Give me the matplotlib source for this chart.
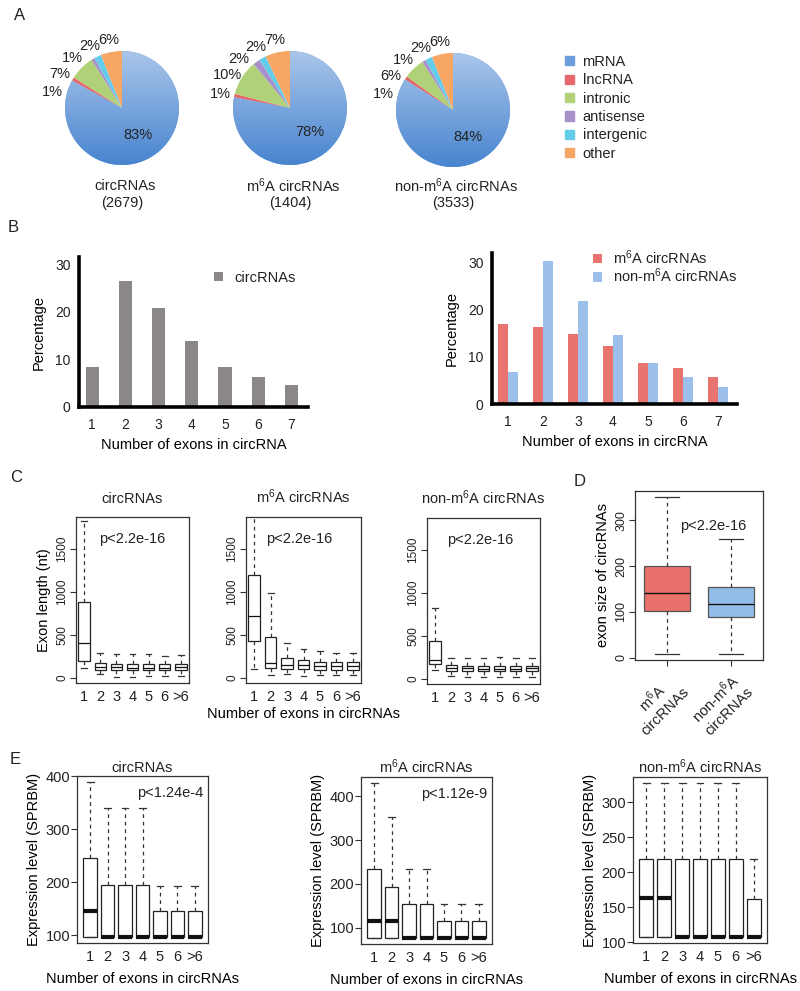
import matplotlib
matplotlib.use('Agg')
import matplotlib.pyplot as plt
import numpy as np
from matplotlib.patches import Patch
from matplotlib.colors import LinearSegmentedColormap

plt.rcParams['font.family'] = ['Liberation Sans', 'DejaVu Sans']
plt.rcParams['mathtext.fontset'] = 'custom'
plt.rcParams['mathtext.rm'] = 'Liberation Sans'
plt.rcParams['mathtext.it'] = 'Liberation Sans:italic'
plt.rcParams['font.size'] = 10
plt.rcParams['text.color'] = '#222222'
plt.rcParams['xtick.color'] = '#333333'
plt.rcParams['ytick.color'] = '#333333'
plt.rcParams['xtick.labelcolor'] = '#222222'
plt.rcParams['ytick.labelcolor'] = '#222222'

M6A = r'm$^{\rm 6}$A'

# A: composition of circRNAs (%)
pie_types = ['mRNA', 'lncRNA', 'intronic', 'antisense', 'intergenic', 'other']
pie_colors = ['#6d9edb', '#e5676a', '#b1d178', '#a890cb', '#63cde9', '#f7a664']
pie_names = ['circRNAs', M6A + ' circRNAs', 'non-' + M6A + ' circRNAs']
pie_counts = [2679, 1404, 3533]
pie_all = [83, 1, 7, 1, 2, 6]
pie_m6a = [78, 1, 10, 2, 2, 7]
pie_non = [84, 1, 6, 1, 2, 6]

# B: distribution of exon numbers (%)
exon_num = [1, 2, 3, 4, 5, 6, 7]
pct_all = [8.4, 26.5, 20.8, 13.8, 8.4, 6.3, 4.7]
pct_m6a = [17.0, 16.4, 14.9, 12.3, 8.7, 7.6, 5.8]
pct_non = [6.8, 30.4, 22.0, 14.7, 8.7, 5.8, 3.6]

# C: exon length (nt) by exon number
box_labels = ['1', '2', '3', '4', '5', '6', '>6']
c_all_lo = [110, 40, 10, 10, 20, 20, 20]
c_all_q1 = [190, 95, 90, 85, 88, 85, 88]
c_all_med = [400, 125, 120, 115, 118, 115, 120]
c_all_q3 = [880, 165, 160, 155, 158, 155, 160]
c_all_hi = [1820, 285, 275, 270, 270, 255, 260]

c_m6a_lo = [100, 35, 45, 25, 35, 35, 35]
c_m6a_q1 = [425, 115, 100, 100, 92, 92, 92]
c_m6a_med = [715, 170, 150, 150, 140, 140, 140]
c_m6a_q3 = [1200, 475, 230, 205, 185, 185, 185]
c_m6a_hi = [1950, 990, 400, 335, 310, 290, 290]

c_non_lo = [105, 35, 15, 15, 15, 15, 15]
c_non_q1 = [175, 92, 90, 88, 90, 88, 90]
c_non_med = [220, 127, 120, 118, 118, 118, 120]
c_non_q3 = [440, 160, 150, 150, 152, 150, 152]
c_non_hi = [820, 245, 240, 245, 250, 235, 245]

# D: exon size
d_labels = [M6A + '\ncircRNAs', 'non-' + M6A + '\ncircRNAs']
d_lo = [9, 9]
d_q1 = [103, 90]
d_med = [142, 118]
d_q3 = [201, 155]
d_hi = [350, 258]

# E: expression level (SPRBM)
e_all_lo = [97, 97, 97, 97, 97, 97, 97]
e_all_q1 = [97, 97, 97, 97, 97, 97, 97]
e_all_med = [145, 97, 97, 97, 97, 97, 97]
e_all_q3 = [245, 195, 195, 195, 145, 145, 145]
e_all_hi = [388, 340, 340, 340, 193, 193, 193]

e_m6a_lo = [77, 77, 77, 77, 77, 77, 77]
e_m6a_q1 = [77, 77, 77, 77, 77, 77, 77]
e_m6a_med = [116, 116, 77, 77, 77, 77, 77]
e_m6a_q3 = [234, 193, 155, 155, 116, 116, 116]
e_m6a_hi = [430, 352, 234, 234, 155, 155, 155]

e_non_lo = [108, 108, 108, 108, 108, 108, 108]
e_non_q1 = [108, 108, 108, 108, 108, 108, 108]
e_non_med = [164, 164, 108, 108, 108, 108, 108]
e_non_q3 = [219, 219, 219, 219, 219, 219, 162]
e_non_hi = [327, 327, 327, 327, 327, 327, 219]

W, H = 800, 991
fig = plt.figure(figsize=(W / 100, H / 100), dpi=100)
FRAME = '#333333'


def rect(l, t, r, b):
    return [l / W, 1 - b / H, (r - l) / W, (b - t) / H]


def ftext(x, y, s, **kw):
    fig.text(x / W, 1 - y / H, s, ha=kw.pop('ha', 'center'), va=kw.pop('va', 'center'), **kw)


def boxes(ax, lo, q1, med, q3, hi, width, med_lw, faces=None):
    stats = [dict(whislo=a, q1=b, med=c, q3=d, whishi=e, fliers=[])
             for a, b, c, d, e in zip(lo, q1, med, q3, hi)]
    n = len(stats)
    bp = ax.bxp(stats, positions=range(1, n + 1), widths=width, capwidths=width * 0.5,
                patch_artist=True, showfliers=False,
                boxprops=dict(facecolor='white', edgecolor='#222222', linewidth=0.9),
                medianprops=dict(color='#111111', linewidth=med_lw, solid_capstyle='butt'),
                whiskerprops=dict(color='#333333', linewidth=0.9, linestyle=(0, (3, 3))),
                capprops=dict(color='#333333', linewidth=0.9))
    if faces:
        for p, c in zip(bp['boxes'], faces):
            p.set_facecolor(c)
            p.set_edgecolor('#555555')
    for s in ax.spines.values():
        s.set_color(FRAME)
        s.set_linewidth(0.9)
    return bp


def r_ylim(lo, hi):
    a, b = min(lo), max(hi)
    return a - 0.04 * (b - a), b + 0.04 * (b - a)


# ---- A
ftext(20, 16, 'A', fontsize=12)
mrna_cmap = LinearSegmentedColormap.from_list('mrna', ['#a9c6ea', '#4884cf'])
grad = np.linspace(0, 1, 256).reshape(-1, 1)
pie_centers = [(122, 108), (290, 108), (453, 110)]
R = 57
for (cx, cy), vals, name, n in zip(pie_centers, [pie_all, pie_m6a, pie_non], pie_names, pie_counts):
    ax = fig.add_axes(rect(cx - 1.6 * R, cy - 1.6 * R, cx + 1.6 * R, cy + 1.6 * R))
    wedges, _ = ax.pie(vals, colors=pie_colors, startangle=90, counterclock=False,
                       wedgeprops=dict(linewidth=0))
    im = ax.imshow(grad, cmap=mrna_cmap, extent=[-1, 1, -1, 1], zorder=wedges[0].get_zorder() + 0.1)
    im.set_clip_path(wedges[0])
    mids = [(w.theta1 + w.theta2) / 2 for w in wedges]
    # big slice: label inside
    a = np.radians(mids[0])
    ax.text(0.55 * np.cos(a), 0.55 * np.sin(a), '%d%%' % vals[0], ha='center', va='center', fontsize=10.5)
    # small slices: outside, spread so they do not collide
    angs = list(mids)
    angs[-1] = min(angs[-1], 97)
    for i in range(len(angs) - 2, 0, -1):
        angs[i] = max(angs[i], angs[i + 1] + 16.5)
    for i in range(1, len(vals)):
        a = np.radians(angs[i])
        ax.text(1.25 * np.cos(a), 1.22 * np.sin(a), '%d%%' % vals[i], ha='center', va='center', fontsize=10.5)
    ax.set_xlim(-1.6, 1.6)
    ax.set_ylim(-1.6, 1.6)
    ax.axis('off')
    ftext(cx + 3, 186, name, fontsize=10.5)
    ftext(cx, 203, '(%d)' % n, fontsize=10.5)

fig.legend(handles=[Patch(color=c) for c in pie_colors], labels=pie_types, loc='upper left',
           bbox_to_anchor=(565 / W, 1 - 55 / H), frameon=False, handlelength=0.6, handleheight=0.6,
           handletextpad=0.6, labelspacing=0.3, borderpad=0, borderaxespad=0, fontsize=10.5)

# ---- B
ftext(13, 228, 'B', fontsize=12)


def bar_axes(ax):
    for s in ['top', 'right']:
        ax.spines[s].set_visible(False)
    for s in ['left', 'bottom']:
        ax.spines[s].set_linewidth(2.6)
        ax.spines[s].set_color('black')
    ax.set_xticks(exon_num)
    ax.set_yticks([0, 10, 20, 30])
    ax.tick_params(length=0, labelsize=10)
    ax.tick_params(axis='x', pad=8)
    ax.tick_params(axis='y', pad=6)
    ax.set_ylabel('Percentage', fontsize=10.5, labelpad=7)
    ax.set_xlabel('Number of exons in circRNA', fontsize=10.5, labelpad=4)


axb1 = fig.add_axes(rect(79, 257, 308, 407))
axb1.bar(exon_num, pct_all, width=0.4, color='#8c8787', label='circRNAs')
axb1.set_xlim(0.6, 7.5)
axb1.set_ylim(0, 31.5)
bar_axes(axb1)
axb1.legend(loc='upper left', bbox_to_anchor=(214 / W, 1 - 271 / H), bbox_transform=fig.transFigure,
            frameon=False, handlelength=0.6, handleheight=0.6, handletextpad=0.8, borderpad=0,
            borderaxespad=0, fontsize=10.5)

axb2 = fig.add_axes(rect(492, 253, 737, 404))
xs = np.array(exon_num)
axb2.bar(xs - 0.145, pct_m6a, width=0.29, color='#e9736f', label=M6A + ' circRNAs')
axb2.bar(xs + 0.145, pct_non, width=0.29, color='#9cc0e9', label='non-' + M6A + ' circRNAs')
axb2.set_xlim(0.54, 7.55)
axb2.set_ylim(0, 32.1)
bar_axes(axb2)
axb2.legend(loc='upper left', bbox_to_anchor=(593 / W, 1 - 248 / H), bbox_transform=fig.transFigure,
            frameon=False, handlelength=0.6, handleheight=0.6, handletextpad=0.8, borderpad=0,
            borderaxespad=0, labelspacing=0.0, fontsize=10.5)

# ---- C
ftext(16, 478, 'C', fontsize=12)
c_frames = [(76, 517, 189, 683), (246, 517, 361, 683), (427, 518, 540, 684)]
c_sets = [(c_all_lo, c_all_q1, c_all_med, c_all_q3, c_all_hi),
          (c_m6a_lo, c_m6a_q1, c_m6a_med, c_m6a_q3, c_m6a_hi),
          (c_non_lo, c_non_q1, c_non_med, c_non_q3, c_non_hi)]
c_px = [0.5, 0.46, 0.47]
for i, (fr, st, name, px) in enumerate(zip(c_frames, c_sets, pie_names, c_px)):
    ax = fig.add_axes(rect(*fr))
    boxes(ax, *st, width=0.7, med_lw=0.9)
    ax.set_xlim(0.5, 7.5)
    ax.set_ylim(-62, 1870)
    ax.set_xticks(range(1, 8))
    ax.set_xticklabels(box_labels)
    ax.set_yticks([0, 500, 1000, 1500])
    ax.tick_params(axis='x', length=0, pad=5, labelsize=10.5)
    ax.tick_params(axis='y', length=4, width=0.8, pad=1.5, labelsize=8.5, labelrotation=90)
    for t in ax.get_yticklabels():
        t.set_va('center')
    ax.set_title(name, fontsize=10.5, pad=10)
    ax.text(px, 0.87, 'p<2.2e-16', transform=ax.transAxes, ha='center', va='center', fontsize=10.5)
    if i == 0:
        ax.set_ylabel('Exon length (nt)', fontsize=10.5, labelpad=4)
    if i == 1:
        ax.set_xlabel('Number of exons in circRNAs', fontsize=10.5, labelpad=2)

# ---- D
ftext(580, 482, 'D', fontsize=12)
axd = fig.add_axes(rect(635, 491, 763, 660))
boxes(axd, d_lo, d_q1, d_med, d_q3, d_hi, width=0.72, med_lw=1.0, faces=['#e8726b', '#93bde9'])
axd.set_xlim(0.5, 2.5)
axd.set_ylim(*r_ylim(d_lo, d_hi))
axd.set_yticks([0, 100, 200, 300])
axd.set_xticks([1, 2])
axd.set_xticklabels(d_labels, rotation=45, ha='right', va='top', rotation_mode='anchor',
                    multialignment='center', fontsize=10.5)
axd.tick_params(axis='x', length=4, width=0.8, pad=3)
axd.tick_params(axis='y', length=4, width=0.8, pad=1.5, labelsize=9, labelrotation=90)
for t in axd.get_yticklabels():
    t.set_va('center')
axd.set_ylabel('exon size of circRNAs', fontsize=10.5, labelpad=4)
axd.text(0.61, 0.79, 'p<2.2e-16', transform=axd.transAxes, ha='center', va='center', fontsize=10.5)

# ---- E
ftext(15, 759, 'E', fontsize=12)
e_frames = [(77, 776, 208, 943), (361, 777, 492, 944), (633, 777, 767, 943)]
e_sets = [(e_all_lo, e_all_q1, e_all_med, e_all_q3, e_all_hi),
          (e_m6a_lo, e_m6a_q1, e_m6a_med, e_m6a_q3, e_m6a_hi),
          (e_non_lo, e_non_q1, e_non_med, e_non_q3, e_non_hi)]
e_ticks = [[100, 200, 300, 400], [100, 200, 300, 400], [100, 150, 200, 250, 300]]
e_pvals = ['p<1.24e-4', 'p<1.12e-9', None]
for fr, st, name, tk, pv in zip(e_frames, e_sets, pie_names, e_ticks, e_pvals):
    ax = fig.add_axes(rect(*fr))
    boxes(ax, *st, width=0.78, med_lw=3.0)
    ax.set_xlim(0.25, 7.75)
    ax.set_ylim(*r_ylim(st[0], st[4]))
    ax.set_xticks(range(1, 8))
    ax.set_xticklabels(box_labels)
    ax.set_yticks(tk)
    ax.tick_params(axis='x', length=0, pad=5, labelsize=10.5)
    ax.tick_params(axis='y', length=4, width=0.8, pad=1, labelsize=10.5)
    ax.set_title(name, fontsize=10.5, pad=3)
    ax.set_ylabel('Expression level (SPRBM)', fontsize=10.5, labelpad=3)
    ax.set_xlabel('Number of exons in circRNAs', fontsize=10.5, labelpad=6)
    if pv:
        ax.text(0.71, 0.9, pv, transform=ax.transAxes, ha='center', va='center', fontsize=10.5)

fig.savefig('out.png', dpi=100)
